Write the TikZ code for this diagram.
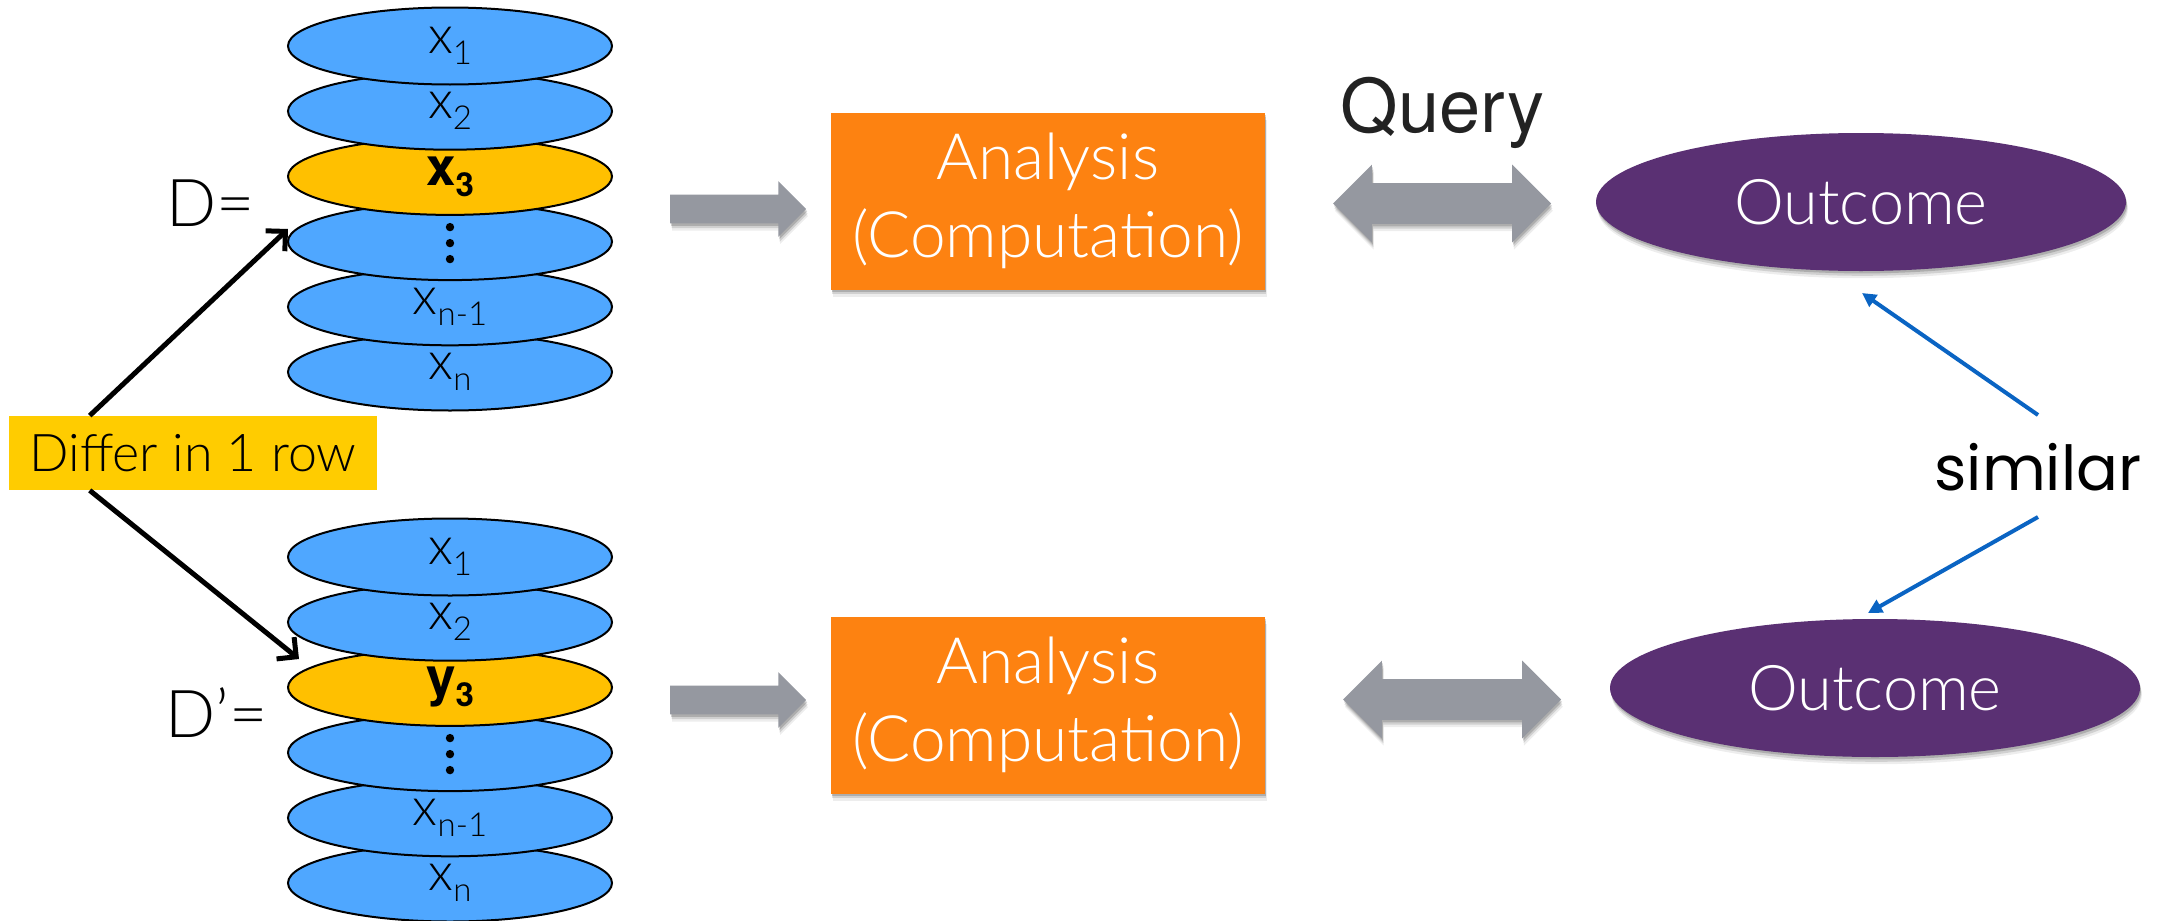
\documentclass[tikz,border=0pt]{standalone}
\usepackage{fontspec}
\usetikzlibrary{shapes.geometric,shapes.arrows,shadows,arrows.meta,calc}

\IfFontExistsTF{Lato Light}
  {\newfontfamily\lightfont{Lato Light}}
  {\newfontfamily\lightfont{TeX Gyre Heros}}
\newfontfamily\heros{TeX Gyre Heros}
\newfontfamily\handfont{Poppins}

\definecolor{rowblue}{RGB}{79,167,255}
\definecolor{rowgold}{RGB}{255,192,0}
\definecolor{diffgold}{RGB}{255,204,0}
\definecolor{anorange}{RGB}{253,130,17}
\definecolor{arrgray}{RGB}{149,152,160}
\definecolor{outpurple}{RGB}{90,48,115}
\definecolor{simblue}{RGB}{10,100,195}
\definecolor{querygray}{RGB}{34,34,34}

% row labels: x with a lowered subscript
\newcommand\rowlab[2]{{\lightfont\fontsize{26.5}{26.5}\selectfont #1\raisebox{-5.5pt}{\fontsize{16.5}{16.5}\selectfont #2}}}
\newcommand\rowbold[2]{{\heros\bfseries\fontsize{26.5}{26.5}\selectfont #1\raisebox{-5.5pt}{\fontsize{16.5}{16.5}\selectfont #2}}}

\begin{document}
\begin{tikzpicture}[x=0.5pt,y=-0.5pt,
  softshadow/.style={
    drop shadow={shadow xshift=0.5pt,shadow yshift=-1.2pt,opacity=0.16,fill=black},
    drop shadow={shadow xshift=0.7pt,shadow yshift=-2.4pt,opacity=0.12,fill=black},
    drop shadow={shadow xshift=0.9pt,shadow yshift=-3.6pt,opacity=0.07,fill=black}},
  rowdisc/.style={ellipse,draw=black,line width=1pt,fill=rowblue,
    minimum width=162pt,minimum height=38.5pt,inner sep=0pt},
  rowhi/.style={rowdisc,fill=rowgold},
  setlabel/.style={inner sep=0pt,anchor=west,font=\lightfont\fontsize{33}{33}\selectfont},
  differbox/.style={rectangle,fill=diffgold,minimum width=184pt,minimum height=37pt,
    inner sep=0pt,font=\lightfont\fontsize{26}{26}\selectfont},
  anbox/.style={rectangle,fill=anorange,minimum width=217pt,minimum height=88.5pt,
    inner sep=0pt,text=white,align=center,font=\lightfont\fontsize{32}{39}\selectfont,softshadow},
  outc/.style={ellipse,fill=outpurple,minimum width=265pt,minimum height=69pt,inner sep=0pt,
    text=white,font=\lightfont\fontsize{31.5}{31.5}\selectfont,softshadow},
  onearrow/.style={single arrow,fill=arrgray,draw=none,inner xsep=0pt,inner ysep=7pt,
    minimum height=68pt,single arrow head extend=6.75pt,
    single arrow head indent=0pt,softshadow},
  twoarrow/.style={double arrow,fill=arrgray,draw=none,inner xsep=0pt,inner ysep=10pt,
    minimum height=109pt,double arrow head extend=9.25pt,
    double arrow head indent=0pt,softshadow},
  pointer/.style={draw=black,line width=2.5pt,-{Straight Barb[length=7pt,width=14pt]}},
  simarrow/.style={draw=simblue,line width=2pt,-{Triangle[length=7pt,width=7pt]}},
]
\fill[white] (0,0) rectangle (2169,921);
\useasboundingbox (0,0) rectangle (2169,921);

% ---- data set D (drawn bottom up so upper rows overlap lower ones)
\node[rowdisc] (t6) at (450,372)   {\rowlab{x}{n}};
\node[rowdisc] (t5) at (450,306.8) {\rowlab{x}{n-1}};
\node[rowdisc] (t4) at (450,241.6) {};
\node[rowhi]   (t3) at (450,176.4) {\rowbold{x}{3}};
\node[rowdisc] (t2) at (450,111.2) {\rowlab{x}{2}};
\node[rowdisc] (t1) at (450,46)    {\rowlab{x}{1}};
\foreach \dy in {-14.5,1.5,17.5}
  \fill ($(t4.center)+(0,\dy)$) circle[radius=2.1pt];

% ---- data set D'
\node[rowdisc] (b6) at (450,883)   {\rowlab{x}{n}};
\node[rowdisc] (b5) at (450,817.8) {\rowlab{x}{n-1}};
\node[rowdisc] (b4) at (450,752.6) {};
\node[rowhi]   (b3) at (450,687.4) {\rowbold{y}{3}};
\node[rowdisc] (b2) at (450,622.2) {\rowlab{x}{2}};
\node[rowdisc] (b1) at (450,557)   {\rowlab{x}{1}};
\foreach \dy in {-14.5,1.5,17.5}
  \fill ($(b4.center)+(0,\dy)$) circle[radius=2.1pt];

\node[setlabel] (dlab)  at (166,203) {D=};
\node[setlabel] (dplab) at (165,713) {D’=};

% ---- neighbouring relation
\node[differbox] (differ) at (193,453) {Differ in 1 row};
\coordinate (dtip)  at (288,229);
\coordinate (dptip) at (299,659);
\draw[pointer] ($(differ.north west)!0.22!(differ.north east)$) -- (dtip);
\draw[pointer] ($(differ.south west)!0.22!(differ.south east)$) -- (dptip);

% ---- analysis pipeline
\node[onearrow] (feed1) at (731,209) {};
\node[onearrow] (feed2) at (731,700) {};
\node[anbox] (an1) at (1048,201) {Analysis\\(Computation)};
\node[anbox] (an2) at (1048,705)   {Analysis\\(Computation)};
\node[twoarrow] (ask1) at (1442,203.5) {};
\node[twoarrow] (ask2) at (1452,699.5) {};
\node[inner sep=0pt,anchor=base,text=querygray,font=\heros\fontsize{37}{37}\selectfont]
  (query) at (1442.5,132) {Query};
\node[outc] (out1) at (1861,202) {Outcome};
\node[outc] (out2) at (1875,688) {Outcome};

% ---- similarity of the outcomes
\node[inner sep=0pt,anchor=base,font=\handfont\fontsize{31}{31}\selectfont]
  (sim) at (2038,490) {similar};
\coordinate (simup)   at (2038,415);
\coordinate (simdown) at (2038,517);
\coordinate (tipup)   at (1862,293);
\coordinate (tipdown) at (1868,613);
\draw[simarrow] (simup) -- (tipup);
\draw[simarrow] (simdown) -- (tipdown);
\end{tikzpicture}
\end{document}
